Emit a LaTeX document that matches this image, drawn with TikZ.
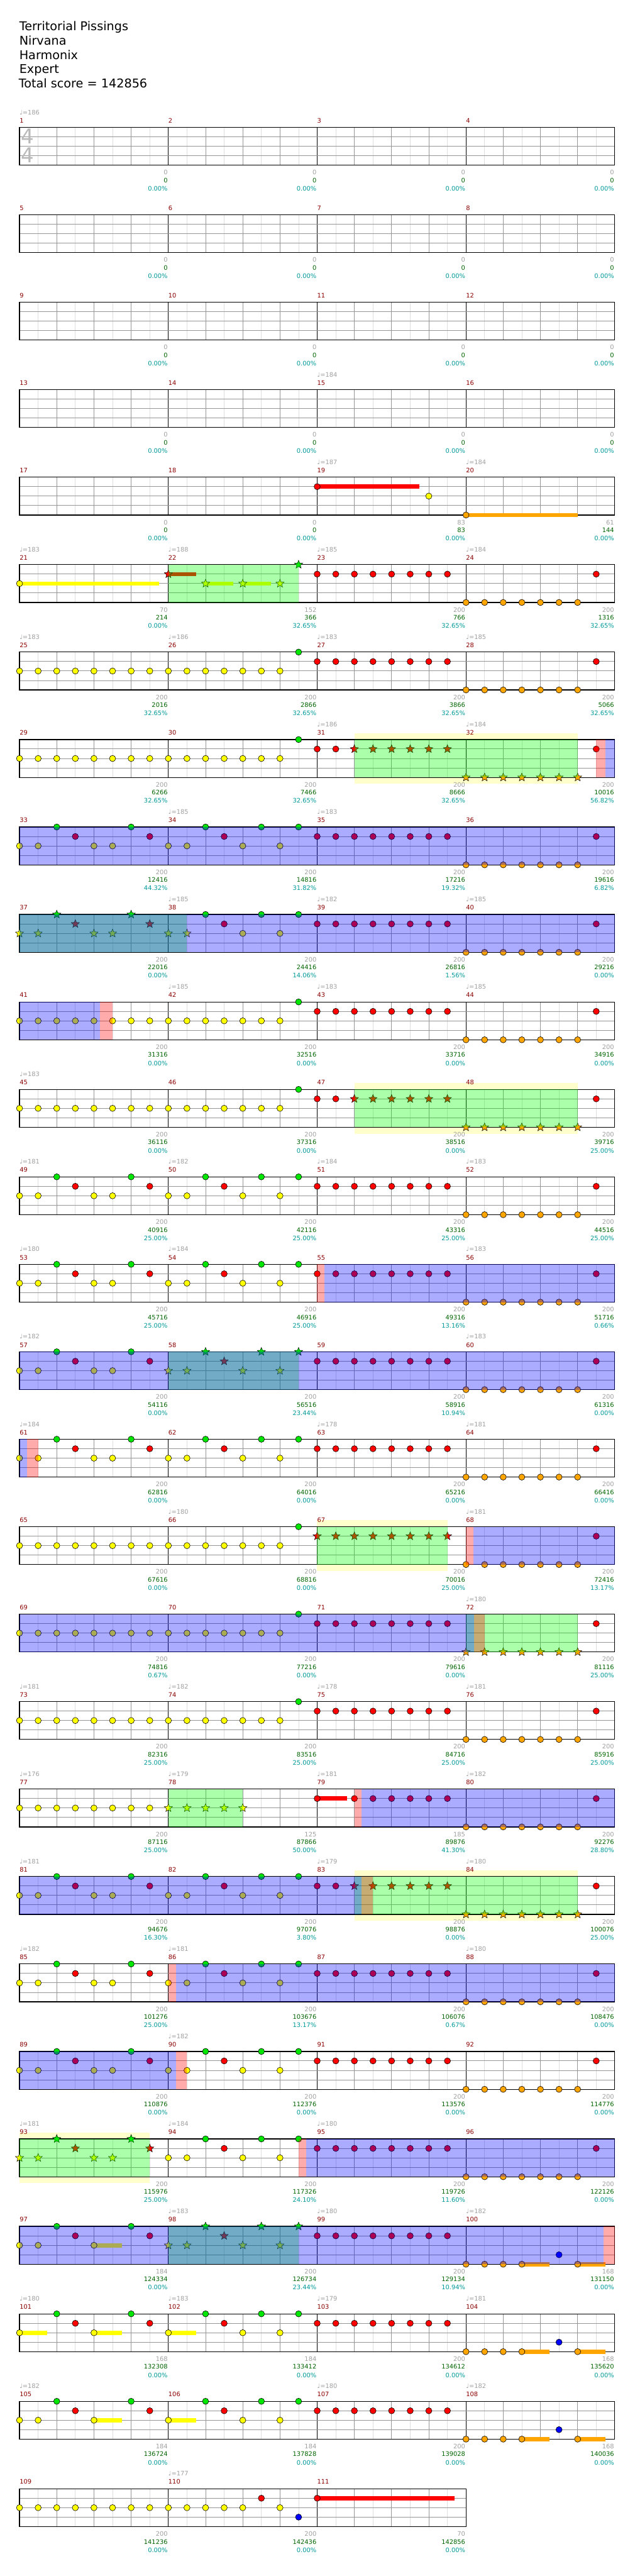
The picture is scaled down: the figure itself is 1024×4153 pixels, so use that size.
\documentclass[tikz,border=0pt]{standalone}
\usepackage{fontspec}
\setmainfont{DejaVu Sans}
\usetikzlibrary{shapes.geometric}
\definecolor{lane0}{RGB}{0,230,0}
\definecolor{lane1}{RGB}{255,0,0}
\definecolor{lane2}{RGB}{255,255,0}
\definecolor{lane3}{RGB}{0,0,255}
\definecolor{lane4}{RGB}{255,165,0}
\definecolor{mnum}{RGB}{139,0,0}
\definecolor{tgray}{RGB}{160,160,160}
\definecolor{sgreen}{RGB}{0,100,0}
\definecolor{scyan}{RGB}{0,153,153}
\definecolor{beatc}{RGB}{150,150,150}
\definecolor{subc}{RGB}{222,222,222}
\definecolor{fillbg}{RGB}{255,255,204}
\definecolor{tsig}{RGB}{185,185,185}
\tikzset{
  notehead/.style={draw=black,line width=0.6pt},
  starnote/.style={star,star points=5,star point ratio=2.3,minimum size=14pt,inner sep=0pt,draw=black,line width=0.5pt},
  lbl/.style={font=\fontsize{10}{12}\selectfont,inner sep=0pt},
  ttl/.style={font=\fontsize{19.5}{22}\selectfont,inner sep=0pt,anchor=base west}
}
\newcommand\setrow[1]{\def\rr{#1}\pgfmathsetmacro\ty{205.3+(#1-1)*141}}
\newcommand\staff[1]{%
  \pgfmathsetmacro\xr{31.5+240*#1}%
  \fill[white] (31.5,\ty) rectangle (\xr,{\ty+61});
  \pgfmathtruncatemacro\nb{4*#1-1}%
  \foreach \k in {0,...,\nb}{\draw[subc,line width=0.8pt] ({31.5+60*\k+30},\ty) -- ({31.5+60*\k+30},{\ty+61});}
  \foreach \k in {1,...,\nb}{\draw[beatc,line width=0.8pt] ({31.5+60*\k},\ty) -- ({31.5+60*\k},{\ty+61});}
  \pgfmathtruncatemacro\nm{#1-1}%
  \foreach \k in {1,...,\nm}{\draw[black,line width=0.8pt] ({31.5+240*\k},\ty) -- ({31.5+240*\k},{\ty+61});}
  \foreach \l in {1,2,3}{\draw[beatc,line width=1pt] (31.5,{\ty+15.25*\l}) -- (\xr,{\ty+15.25*\l});}
  \draw[black,line width=1.2pt] (31.5,\ty) rectangle (\xr,{\ty+61});
}
\newcommand\nt[2]{\filldraw[fill=lane#2,notehead] ({31.5+30*#1},{\ty+15.25*#2}) circle[radius=5pt];}
\newcommand\st[2]{\node[starnote,fill=lane#2] at ({31.5+30*#1},{\ty+15.25*#2}) {};}
\newcommand\sus[3]{\fill[lane#3] ({31.5+30*#1},{\ty+15.25*#3-3.4}) rectangle ({31.5+30*#2},{\ty+15.25*#3+3.4});}
\newcommand\ov[3]{\fill[#3,opacity=0.33] ({31.5+30*#1},\ty) rectangle ({31.5+30*#2},{\ty+61});}
\newcommand\ybg[2]{\fill[fillbg] ({31.5+30*#1},{\ty-10.3}) rectangle ({31.5+30*#2},{\ty+71.3});}
\def\Plist{0/2,1/2,2/0,3/1,4/2,5/2,6/0,7/1,8/2,9/2,10/0,11/1,12/2,13/0,14/2,15/0}
\newcommand\Pn[3]{\foreach \g/\l in \Plist {\ifnum\g<#1\relax\else\ifnum\g>#2\relax\else#3{\g}{\l}\fi\fi}}
\newcommand\Yrun{\foreach \g in {0,...,14}{\nt{\g}{2}}\nt{15}{0}}
\newcommand\Reds{\foreach \g in {16,...,23}{\nt{\g}{1}}}
\newcommand\Back{\Reds\foreach \g in {24,...,30}{\nt{\g}{4}}\nt{31}{1}}
\newcommand\Kend{\nt{24}{4}\nt{25}{4}\nt{26}{4}\sus{27}{28.5}{4}\nt{27}{4}\nt{29}{3}\sus{30}{31.5}{4}\nt{30}{4}}
\newcommand\mnums[1]{\foreach \c in {0,...,#1}{\pgfmathtruncatemacro\mn{4*(\rr-1)+\c+1}\node[lbl,text=mnum,anchor=base west] at ({31.5+240*\c},{\ty-7.4}) {\mn};}}
\newcommand\tempos[1]{\foreach \c/\v in {#1}{\node[lbl,text=tgray,anchor=base west] at ({31.5+240*\c},{\ty-20.7}) {♩=\v};}}
\newcommand\scores[1]{\foreach \c/\a/\b/\p in {#1}{%
  \node[lbl,text=tgray,anchor=base east] at ({31.5+240*(\c+1)-1},{\ty+76.3}) {\a};
  \node[lbl,text=sgreen,anchor=base east] at ({31.5+240*(\c+1)-1},{\ty+89}) {\b};
  \node[lbl,text=scyan,anchor=base east] at ({31.5+240*(\c+1)-1},{\ty+102.3}) {\p};}}
\newcommand\zeros{\scores{0/0/0/0.00\%,1/0/0/0.00\%,2/0/0/0.00\%,3/0/0/0.00\%}}
\begin{document}
\begin{tikzpicture}[x=1pt,y=-1pt]
\useasboundingbox (0,0) rectangle (1024,4153);
\fill[white] (0,0) rectangle (1024,4153);
\node[ttl] (t1) at (31,49.3) {Territorial Pissings};
\node[ttl] (t2) at (31,72.3) {Nirvana};
\node[ttl] (t3) at (31,95.7) {Harmonix};
\node[ttl] (t4) at (31,118.3) {Expert};
\node[ttl] (t5) at (30,141) {Total score = 142856};
% rows 1-4
\setrow{1}\staff{4}
\node[font=\fontsize{33}{33}\selectfont,text=tsig,inner sep=0pt,anchor=base west] (ts1) at (33.5,{\ty+26.7}) {4};
\node[font=\fontsize{33}{33}\selectfont,text=tsig,inner sep=0pt,anchor=base west] (ts2) at (33.5,{\ty+56.7}) {4};
\mnums{3}\tempos{0/186}\zeros
\setrow{2}\staff{4}\mnums{3}\zeros
\setrow{3}\staff{4}\mnums{3}\zeros
\setrow{4}\staff{4}\mnums{3}\tempos{2/184}\zeros
% row 5
\setrow{5}\staff{4}
\sus{16}{21.5}{1}\nt{16}{1}\nt{22}{2}\sus{24}{30}{4}\nt{24}{4}
\mnums{3}\tempos{2/187,3/184}
\scores{0/0/0/0.00\%,1/0/0/0.00\%,2/83/83/0.00\%,3/61/144/0.00\%}
% row 6
\setrow{6}\staff{4}
\sus{0}{7.5}{2}\nt{0}{2}
\sus{8}{9.5}{1}\st{8}{1}
\sus{10}{11.5}{2}\st{10}{2}
\sus{12}{13.5}{2}\st{12}{2}
\st{14}{2}\st{15}{0}
\Back
\ov{8}{15}{green}
\mnums{3}\tempos{0/183,1/188,2/185,3/184}
\scores{0/70/214/0.00\%,1/152/366/32.65\%,2/200/766/32.65\%,3/200/1316/32.65\%}
% row 7
\setrow{7}\staff{4}\Yrun\Back
\mnums{3}\tempos{0/183,1/186,2/183,3/185}
\scores{0/200/2016/32.65\%,1/200/2866/32.65\%,2/200/3866/32.65\%,3/200/5066/32.65\%}
% row 8
\setrow{8}\ybg{18}{30}\staff{4}
\Yrun\nt{16}{1}\nt{17}{1}
\foreach \g in {18,...,23}{\st{\g}{1}}
\foreach \g in {24,...,30}{\st{\g}{4}}
\nt{31}{1}
\ov{18}{30}{green}\ov{31.48}{32}{blue}\ov{31}{31.48}{red}
\mnums{3}\tempos{2/186,3/184}
\scores{0/200/6266/32.65\%,1/200/7466/32.65\%,2/200/8666/32.65\%,3/200/10016/56.82\%}
% row 9
\setrow{9}\staff{4}\Pn{0}{15}\nt\Back
\ov{0}{32}{blue}
\mnums{3}\tempos{1/185,2/183}
\scores{0/200/12416/44.32\%,1/200/14816/31.82\%,2/200/17216/19.32\%,3/200/19616/6.82\%}
% row 10
\setrow{10}\staff{4}\Pn{0}{9}\st\Pn{10}{15}\nt\Back
\ov{0}{9}{green}\ov{0}{32}{blue}
\mnums{3}\tempos{1/185,2/182,3/185}
\scores{0/200/22016/0.00\%,1/200/24416/14.06\%,2/200/26816/1.56\%,3/200/29216/0.00\%}
% row 11
\setrow{11}\staff{4}\Yrun\Back
\ov{0}{4.33}{blue}\ov{4.33}{5}{red}
\mnums{3}\tempos{1/185,2/183,3/185}
\scores{0/200/31316/0.00\%,1/200/32516/0.00\%,2/200/33716/0.00\%,3/200/34916/0.00\%}
% row 12
\setrow{12}\ybg{18}{30}\staff{4}
\Yrun\nt{16}{1}\nt{17}{1}
\foreach \g in {18,...,23}{\st{\g}{1}}
\foreach \g in {24,...,30}{\st{\g}{4}}
\nt{31}{1}
\ov{18}{30}{green}
\mnums{3}\tempos{0/183}
\scores{0/200/36116/0.00\%,1/200/37316/0.00\%,2/200/38516/0.00\%,3/200/39716/25.00\%}
% row 13
\setrow{13}\staff{4}\Pn{0}{15}\nt\Back
\mnums{3}\tempos{0/181,1/182,2/184,3/183}
\scores{0/200/40916/25.00\%,1/200/42116/25.00\%,2/200/43316/25.00\%,3/200/44516/25.00\%}
% row 14
\setrow{14}\staff{4}\Pn{0}{15}\nt\Back
\ov{16.39}{32}{blue}\ov{16}{16.39}{red}
\mnums{3}\tempos{0/180,1/184,3/183}
\scores{0/200/45716/25.00\%,1/200/46916/25.00\%,2/200/49316/13.16\%,3/200/51716/0.66\%}
% row 15
\setrow{15}\staff{4}\Pn{0}{7}\nt\Pn{8}{15}\st\Back
\ov{8}{15}{green}\ov{0}{32}{blue}
\mnums{3}\tempos{0/182,3/183}
\scores{0/200/54116/0.00\%,1/200/56516/23.44\%,2/200/58916/10.94\%,3/200/61316/0.00\%}
% row 16
\setrow{16}\staff{4}\Pn{0}{15}\nt\Back
\ov{0}{0.41}{blue}\ov{0.41}{1}{red}
\mnums{3}\tempos{0/184,2/178,3/181}
\scores{0/200/62816/0.00\%,1/200/64016/0.00\%,2/200/65216/0.00\%,3/200/66416/0.00\%}
% row 17
\setrow{17}\ybg{16}{23}\staff{4}
\Yrun
\foreach \g in {16,...,23}{\st{\g}{1}}
\foreach \g in {24,...,30}{\nt{\g}{4}}
\nt{31}{1}
\ov{16}{23}{green}\ov{24.39}{32}{blue}\ov{24}{24.39}{red}
\mnums{3}\tempos{1/180,3/181}
\scores{0/200/67616/0.00\%,1/200/68816/0.00\%,2/200/70016/25.00\%,3/200/72416/13.17\%}
% row 18
\setrow{18}\staff{4}
\Yrun\Reds
\foreach \g in {24,...,30}{\st{\g}{4}}
\nt{31}{1}
\ov{24}{30}{green}\ov{0}{24.42}{blue}\ov{24.42}{25}{red}
\mnums{3}\tempos{3/180}
\scores{0/200/74816/0.67\%,1/200/77216/0.00\%,2/200/79616/0.00\%,3/200/81116/25.00\%}
% row 19
\setrow{19}\staff{4}\Yrun\Back
\mnums{3}\tempos{0/181,1/182,2/178,3/181}
\scores{0/200/82316/25.00\%,1/200/83516/25.00\%,2/200/84716/25.00\%,3/200/85916/25.00\%}
% row 20
\setrow{20}\staff{4}
\foreach \g in {0,...,7}{\nt{\g}{2}}
\foreach \g in {8,...,12}{\st{\g}{2}}
\sus{16}{17.6}{1}\nt{16}{1}
\foreach \g in {18,...,23}{\nt{\g}{1}}
\foreach \g in {24,...,30}{\nt{\g}{4}}
\nt{31}{1}
\ov{8}{12}{green}\ov{18.39}{32}{blue}\ov{18}{18.39}{red}
\mnums{3}\tempos{0/176,1/179,2/181,3/182}
\scores{0/200/87116/25.00\%,1/125/87866/50.00\%,2/185/89876/41.30\%,3/200/92276/28.80\%}
% row 21
\setrow{21}\ybg{18}{30}\staff{4}
\Pn{0}{15}\nt\nt{16}{1}\nt{17}{1}
\foreach \g in {18,...,23}{\st{\g}{1}}
\foreach \g in {24,...,30}{\st{\g}{4}}
\nt{31}{1}
\ov{18}{30}{green}\ov{0}{18.4}{blue}\ov{18.4}{19}{red}
\mnums{3}\tempos{0/181,2/179,3/180}
\scores{0/200/94676/16.30\%,1/200/97076/3.80\%,2/200/98876/0.00\%,3/200/100076/25.00\%}
% row 22
\setrow{22}\staff{4}\Pn{0}{15}\nt\Back
\ov{8.4}{32}{blue}\ov{8}{8.4}{red}
\mnums{3}\tempos{0/182,1/181,3/180}
\scores{0/200/101276/25.00\%,1/200/103676/13.17\%,2/200/106076/0.67\%,3/200/108476/0.00\%}
% row 23
\setrow{23}\staff{4}\Pn{0}{15}\nt\Back
\ov{0}{8.42}{blue}\ov{8.42}{9}{red}
\mnums{3}\tempos{1/182}
\scores{0/200/110876/0.00\%,1/200/112376/0.00\%,2/200/113576/0.00\%,3/200/114776/0.00\%}
% row 24
\setrow{24}\ybg{0}{7}\staff{4}
\Pn{0}{7}\st\Pn{8}{15}\nt\Back
\ov{0}{7}{green}\ov{15.4}{32}{blue}\ov{15}{15.4}{red}
\mnums{3}\tempos{0/181,1/184,2/180}
\scores{0/200/115976/25.00\%,1/200/117326/24.10\%,2/200/119726/11.60\%,3/200/122126/0.00\%}
% row 25
\setrow{25}\staff{4}
\nt{0}{2}\nt{1}{2}\nt{2}{0}\nt{3}{1}\sus{4}{5.5}{2}\nt{4}{2}\nt{6}{0}\nt{7}{1}
\Pn{8}{15}\st\Reds\Kend
\ov{8}{15}{green}\ov{0}{31.41}{blue}\ov{31.41}{32}{red}
\mnums{3}\tempos{1/183,2/180,3/182}
\scores{0/184/124334/0.00\%,1/200/126734/23.44\%,2/200/129134/10.94\%,3/168/131150/0.00\%}
% row 26
\setrow{26}\staff{4}
\sus{0}{1.5}{2}\nt{0}{2}\nt{2}{0}\nt{3}{1}\sus{4}{5.5}{2}\nt{4}{2}\nt{6}{0}\nt{7}{1}
\sus{8}{9.5}{2}\nt{8}{2}\nt{10}{0}\nt{11}{1}\nt{12}{2}\nt{13}{0}\nt{14}{2}\nt{15}{0}
\Reds\Kend
\mnums{3}\tempos{0/180,1/183,2/179,3/181}
\scores{0/168/132308/0.00\%,1/184/133412/0.00\%,2/200/134612/0.00\%,3/168/135620/0.00\%}
% row 27
\setrow{27}\staff{4}
\nt{0}{2}\nt{1}{2}\nt{2}{0}\nt{3}{1}\sus{4}{5.5}{2}\nt{4}{2}\nt{6}{0}\nt{7}{1}
\sus{8}{9.5}{2}\nt{8}{2}\nt{10}{0}\nt{11}{1}\nt{12}{2}\nt{13}{0}\nt{14}{2}\nt{15}{0}
\Reds\Kend
\mnums{3}\tempos{0/182,2/180,3/182}
\scores{0/184/136724/0.00\%,1/184/137828/0.00\%,2/200/139028/0.00\%,3/168/140036/0.00\%}
% row 28
\setrow{28}\staff{3}
\foreach \g in {0,...,12}{\nt{\g}{2}}
\nt{13}{1}\nt{14}{2}\nt{15}{3}
\sus{16}{23.4}{1}\nt{16}{1}
\mnums{2}\tempos{1/177}
\scores{0/200/141236/0.00\%,1/200/142436/0.00\%,2/70/142856/0.00\%}
\end{tikzpicture}
\end{document}
